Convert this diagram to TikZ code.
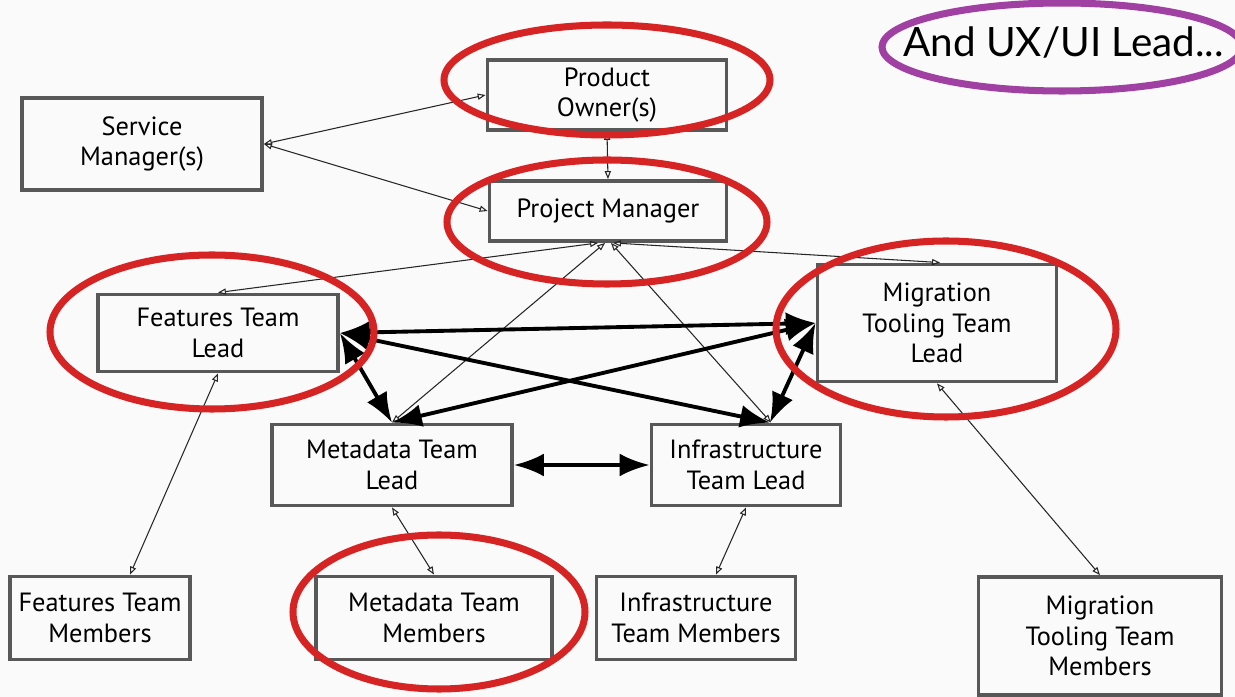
\documentclass[tikz,border=0pt]{standalone}
\definecolor{boxgray}{RGB}{88, 88, 88}
\definecolor{ringred}{RGB}{214, 36, 36}
\definecolor{ringpurple}{RGB}{160, 64, 162}
\definecolor{paper}{RGB}{250, 250, 250}
\usepackage{fontspec}
\setmainfont{PT Sans}
\newfontfamily\notefont{Lato}
\usepackage{tikz}
\usetikzlibrary{arrows.meta, positioning, calc}

\tikzset{
  rolebox/.style={draw=boxgray, line width=2.2pt, align=center, inner sep=4pt, font=\fontsize{15}{17.5}\selectfont},
  thinlink/.style={{Triangle[open, length=4.5pt, width=3.5pt]}-{Triangle[open, length=4.5pt, width=3.5pt]}, line width=0.6pt, black!85},
  thicklink/.style={{Latex[length=17pt, width=13pt]}-{Latex[length=17pt, width=13pt]}, line width=2.2pt, black},
  ring/.style={draw=ringred, line width=4pt}
}

\begin{document}
\begin{tikzpicture}[x=0.2mm, y=-0.2mm]
  \useasboundingbox[fill=paper] (0, 0) rectangle (1235, 697);

  % Management
  \node[rolebox, minimum width=4.8cm, minimum height=1.84cm] (svc) at (142, 144) {Service\\Manager(s)};
  \node[rolebox, minimum width=4.78cm, minimum height=1.4cm] (po) at (607, 95) {Product\\Owner(s)};
  \node[rolebox, minimum width=4.74cm, minimum height=1.2cm] (pm) at (608, 211) {Project Manager};

  % Team leads
  \node[rolebox, minimum width=4.8cm, minimum height=1.54cm] (featlead) at (218, 333) {Features Team\\Lead};
  \node[rolebox, minimum width=4.78cm, minimum height=2.34cm] (miglead) at (937, 323) {Migration\\Tooling Team\\Lead};
  \node[rolebox, minimum width=4.8cm, minimum height=1.62cm] (metalead) at (392, 465) {Metadata Team\\Lead};
  \node[rolebox, minimum width=3.78cm, minimum height=1.62cm] (infralead) at (746, 465) {Infrastructure\\Team Lead};

  % Team members
  \node[rolebox, minimum width=3.6cm, minimum height=1.66cm] (featmem) at (100, 618) {Features Team\\Members};
  \node[rolebox, minimum width=4.72cm, minimum height=1.66cm] (metamem) at (434, 618) {Metadata Team\\Members};
  \node[rolebox, minimum width=3.98cm, minimum height=1.66cm] (inframem) at (696, 618) {Infrastructure\\Team Members};
  \node[rolebox, minimum width=4.86cm, minimum height=2.36cm] (migmem) at (1100, 636) {Migration\\Tooling Team\\Members};

  % Thin links
  \draw[thinlink] (svc.east) -- (po.west);
  \draw[thinlink] (svc.east) -- (pm.west);
  \draw[thinlink] (po.south) -- (pm.north);
  \draw[thinlink] ([xshift=-0.2cm]pm.south) -- (featlead.north);
  \draw[thinlink] ([xshift=0.1cm]pm.south) -- ([xshift=0.06cm]miglead.north);
  \draw[thinlink] ([xshift=-0.06cm]pm.south) -- (metalead.north);
  \draw[thinlink] ([xshift=0.06cm]pm.south) -- ([xshift=0.5cm]infralead.north);
  \draw[thinlink] (featlead.south) -- ([xshift=0.6cm]featmem.north);
  \draw[thinlink] (metalead.south) -- (metamem.north);
  \draw[thinlink] (infralead.south) -- ([xshift=0.4cm]inframem.north);
  \draw[thinlink] (miglead.south) -- (migmem.north);

  % Thick links between leads
  \draw[thicklink] (featlead.east) -- (miglead.west);
  \draw[thicklink] (featlead.east) -- ([xshift=0.48cm]infralead.north);
  \draw[thicklink] (featlead.east) -- (metalead.north);
  \draw[thicklink] (miglead.west) -- (metalead.north);
  \draw[thicklink] (miglead.west) -- ([xshift=0.48cm]infralead.north);
  \draw[thicklink] (metalead.east) -- (infralead.west);

  % Highlight rings
  \draw[ring] (607, 80) ellipse [x radius=163, y radius=55];
  \draw[ring] (607, 222) ellipse [x radius=160, y radius=62];
  \draw[ring] (212, 332) ellipse [x radius=162, y radius=77];
  \draw[ring] (946, 329) ellipse [x radius=170, y radius=88];
  \draw[ring] (439, 612) ellipse [x radius=146, y radius=77];

  % Note
  \draw[draw=ringpurple, line width=4pt] (1062, 47) ellipse [x radius=180, y radius=44];
  \node[anchor=west, font=\notefont\fontsize{23}{27}\selectfont, inner sep=0pt] (note) at (903, 43) {And UX/UI Lead...};
\end{tikzpicture}
\end{document}
